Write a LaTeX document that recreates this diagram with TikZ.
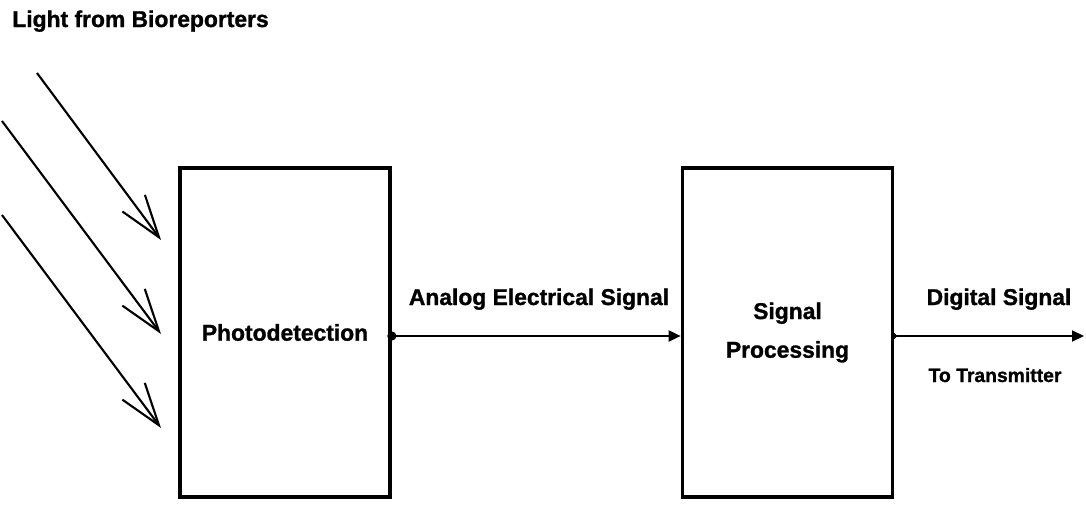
\documentclass[tikz,border=0pt]{standalone}
\usepackage{fontspec}
\setmainfont{Liberation Sans}[BoldFeatures={FakeBold=1.2}]
\usetikzlibrary{arrows.meta,positioning,calc}

\begin{document}
\begin{tikzpicture}[>=Latex,
  block/.style={draw,line width=2.1pt,minimum width=4.2cm,minimum height=6.58cm,
    align=center,font=\fontsize{13}{22}\selectfont\bfseries},
  lbl/.style={font=\fontsize{13}{15}\selectfont\bfseries,inner sep=0pt},
  note/.style={font=\fontsize{11}{13}\selectfont\bfseries,inner sep=0pt},
  ray/.style={-{Straight Barb[length=8.5mm,width=5.6mm]},line width=1.2pt},
  sig/.style={{Circle[length=1.8mm]}-{Triangle[length=2.4mm,width=2.2mm]},
    line width=1.1pt,shorten <=-0.9mm}]
\useasboundingbox (0,0) rectangle (21.72,10.12);

\node[lbl,anchor=base west] (light) at (0.24,9.58) {Light from Bioreporters};
\node[block] (pd) at (5.7,3.47) {Photodetection};
\node[block] (sp) at (15.75,3.47) {Signal\\Processing};

% light rays
\coordinate (r1s) at (0.74,8.66); \coordinate (r1e) at (3.22,5.32);
\coordinate (r2s) at (0.04,7.70); \coordinate (r2e) at (3.22,3.44);
\coordinate (r3s) at (0.04,5.82); \coordinate (r3e) at (3.22,1.56);
\draw[ray] (r1s)--(r1e);
\draw[ray] (r2s)--(r2e);
\draw[ray] (r3s)--(r3e);

% signal path
\coordinate (tx) at (21.68,3.40);
\draw[sig] ([yshift=-0.07cm]pd.east)--([yshift=-0.07cm]sp.west);
\draw[sig,{Circle[length=1.0mm]}-{Triangle[length=2.4mm,width=2.2mm]},shorten <=-0.5mm]
  ([yshift=-0.07cm]sp.east)--(tx);

\node[lbl,anchor=base] (analog) at (10.78,4.02) {Analog Electrical Signal};
\node[lbl,anchor=base] (digital) at (19.98,4.02) {Digital Signal};
\node[note,anchor=base] (totx) at (19.90,2.48) {To Transmitter};
\end{tikzpicture}
\end{document}
